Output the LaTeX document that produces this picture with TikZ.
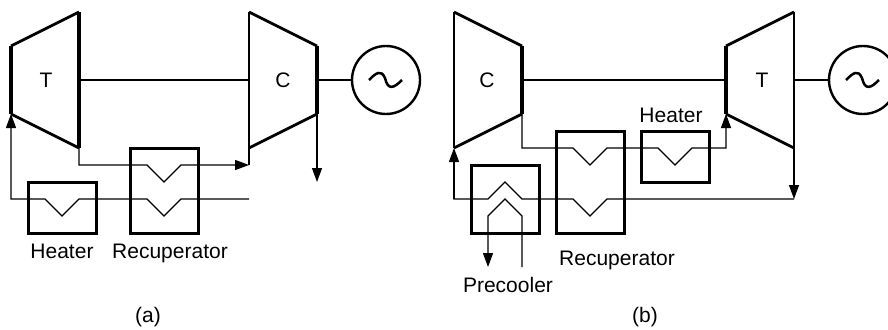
\documentclass[tikz,border=0pt]{standalone}
\usepackage{fontspec}
\setmainfont{Liberation Sans}
\usetikzlibrary{arrows.meta}
\tikzset{
  machine/.style={line width=2.8pt,line join=miter},
  heavy/.style={line width=3.2pt},
  medium/.style={line width=2pt},
  shaft/.style={line width=2.5pt},
  flow/.style={line width=1.3pt,line join=miter},
  flowarrow/.style={flow,-{Triangle[length=14pt,width=10pt]}},
  hxbox/.style={draw,line width=3pt,minimum width=#1,inner sep=0pt,outer sep=0pt},
  gen/.style={draw,circle,line width=2.4pt,minimum size=68pt,inner sep=0pt,outer sep=0pt},
  lbl/.style={font=\fontsize{21}{25}\selectfont,inner sep=0pt,anchor=base,text=black}
}
\begin{document}
\begin{tikzpicture}[x=1pt,y=-1pt]
\useasboundingbox (0,0) rectangle (888,329);
\clip (0,0) rectangle (888,329);
% ---------- (a) ----------
\coordinate (aT1) at (11,46); \coordinate (aT2) at (79,12);
\coordinate (aT3) at (79,148); \coordinate (aT4) at (11,114);
\coordinate (aC1) at (249,12); \coordinate (aC2) at (317,46);
\coordinate (aC3) at (317,114); \coordinate (aC4) at (249,148);
\draw[machine] (aT1) -- (aT2) (aT3) -- (aT4);
\draw[heavy] (aT1) -- (aT4) (aT2) -- (aT3);
\draw[machine] (aC1) -- (aC2) (aC3) -- (aC4);
\draw[medium] (aC1) -- (aC4);
\draw[heavy] (aC2) -- (aC3);
\node[lbl] (aTl) at (46,87) {T};
\node[lbl] (aCl) at (283,87) {C};
\node[gen] (aG) at (386,80) {};
\coordinate (aSa) at (79,80); \coordinate (aSb) at (249,80); \coordinate (aSc) at (317,80);
\draw[shaft] (aSa) -- (aSb);
\draw[shaft] (aSc) -- (aG);
\draw[shaft] (369,80) .. controls (376,73) and (381,69) .. (385,78) .. controls (388,91) and (394,88) .. (402,80);
\node[hxbox=68pt,minimum height=85pt] (aR) at (164,190.5) {};
\node[hxbox=68pt,minimum height=51pt] (aH) at (62,207.5) {};
\coordinate (aTop) at (249,165); \coordinate (aOut) at (317,182); \coordinate (aIn) at (249,199);
\draw[flowarrow] (aT3) -- (79,165) -- (147,165) -- (164,182) -- (181,165) -- (aTop);
\draw[flow] (aC4) -- (aTop);
\draw[flowarrow] (aIn) -- (181,199) -- (164,216) -- (147,199) -- (79,199) -- (62,216) -- (45,199) -- (11,199) -- (aT4);
\draw[flowarrow] (aC3) -- (aOut);
\node[lbl] (aHl) at (62,258) {Heater};
\node[lbl] (aRl) at (170,258) {Recuperator};
\node[lbl] (aCap) at (148,322) {(a)};
% ---------- (b) ----------
\coordinate (bC1) at (454,12); \coordinate (bC2) at (522,46);
\coordinate (bC3) at (522,114); \coordinate (bC4) at (454,148);
\coordinate (bT1) at (726,46); \coordinate (bT2) at (794,12);
\coordinate (bT3) at (794,148); \coordinate (bT4) at (726,114);
\draw[machine] (bC1) -- (bC2) (bC3) -- (bC4);
\draw[medium] (bC1) -- (bC4);
\draw[heavy] (bC2) -- (bC3);
\draw[machine] (bT1) -- (bT2) (bT3) -- (bT4);
\draw[heavy] (bT1) -- (bT4);
\draw[medium] (bT2) -- (bT3);
\node[lbl] (bCl) at (487,87) {C};
\node[lbl] (bTl) at (762,87) {T};
\node[gen] (bG) at (863,80) {};
\coordinate (bSa) at (522,80); \coordinate (bSb) at (726,80); \coordinate (bSc) at (794,80);
\draw[shaft] (bSa) -- (bSb);
\draw[shaft] (bSc) -- (bG);
\draw[shaft] (846,80) .. controls (853,73) and (858,69) .. (862,78) .. controls (865,91) and (871,88) .. (879,80);
\node[hxbox=68pt,minimum height=102pt] (bR) at (590,182) {};
\node[hxbox=68pt,minimum height=51pt] (bH) at (675,156.5) {};
\node[hxbox=68pt,minimum height=68pt] (bP) at (505,199) {};
\coordinate (bRight) at (794,199); \coordinate (bPout) at (488,267); \coordinate (bPin) at (522,267);
\draw[flowarrow] (bC3) -- (522,148) -- (573,148) -- (590,165) -- (607,148) -- (658,148) -- (675,165) -- (692,148) -- (726,148) -- (bT4);
\draw[flowarrow] (bT3) -- (bRight);
\draw[flow] (bRight) -- (607,199) -- (590,216) -- (573,199) -- (522,199) -- (505,182) -- (488,199) -- (454,199) -- (454,162);
\draw[flowarrow] (454,199) -- (bC4);
\draw[flowarrow] (bPin) -- (522,216) -- (505,199) -- (488,216) -- (bPout);
\node[lbl] (bHl) at (671,122) {Heater};
\node[lbl] (bRl) at (617,265) {Recuperator};
\node[lbl] (bPl) at (508,292) {Precooler};
\node[lbl] (bCap) at (645,322) {(b)};
\end{tikzpicture}
\end{document}
